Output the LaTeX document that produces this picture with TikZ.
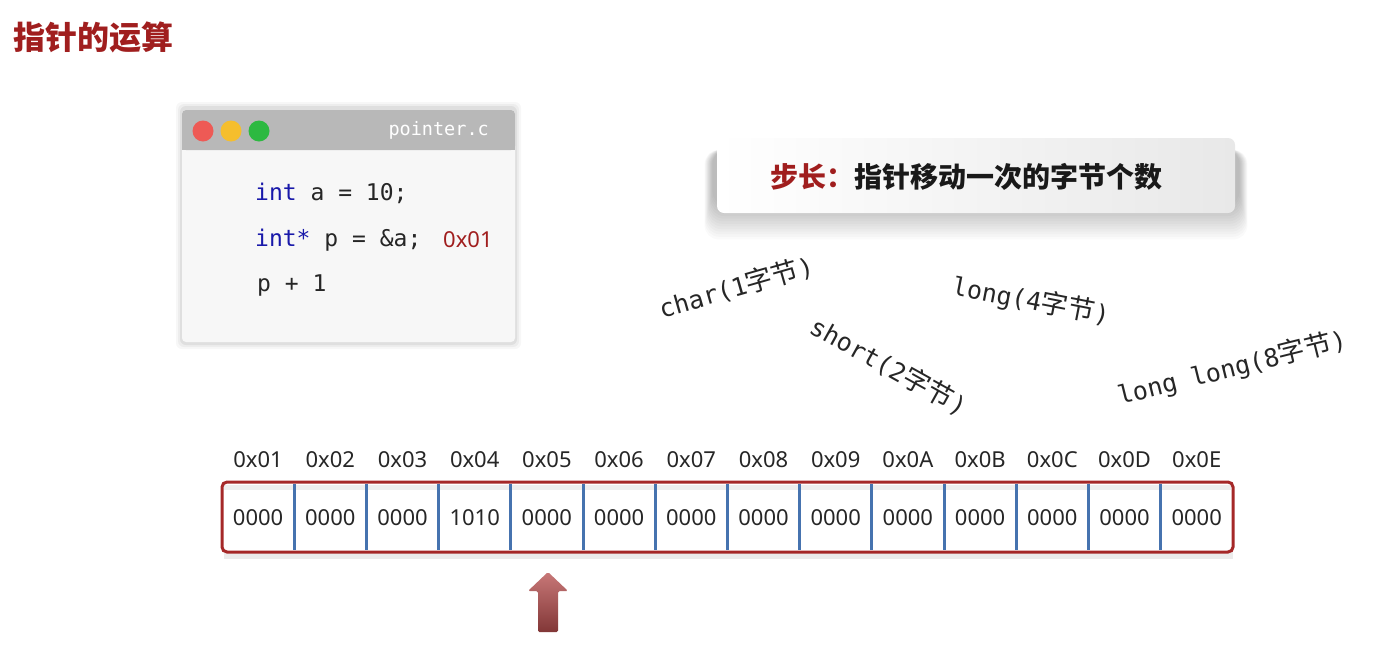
\documentclass[tikz,border=0pt]{standalone}
\usepackage{fontspec}
\setmainfont{Noto Sans}
\newfontfamily\cjk{Noto Sans CJK SC}
\newfontfamily\mono{DejaVu Sans Mono}
\usetikzlibrary{shadings}
\definecolor{tred}{RGB}{160,30,30}
\definecolor{kwblue}{RGB}{25,25,170}
\definecolor{cellblue}{RGB}{70,115,175}
\definecolor{boxred}{RGB}{165,40,40}
\begin{document}
\begin{tikzpicture}[x=1pt,y=-1pt,
  addr/.style={font=\fontsize{22}{22}\selectfont, text=black!85, anchor=center, inner sep=0pt},
  val/.style={font=\fontsize{22}{22}\selectfont, text=black!85, anchor=center, inner sep=0pt},
  code/.style={font=\mono\fontsize{23}{23}\selectfont, anchor=west, inner sep=0pt, text=black!85},
  rot/.style={font=\mono\fontsize{25}{25}\selectfont, inner sep=0pt, text=black!85},
  dot/.style={circle, minimum size=21pt, inner sep=0pt}
]
\useasboundingbox (0,0) rectangle (1375,651);
\fill[white] (0,0) rectangle (1375,651);

% title
\node[font=\cjk\bfseries\fontsize{32}{32}\selectfont, text=tred, anchor=west, inner sep=0pt] (title) at (13,37) {指针的运算};

% code window shadow
\foreach \i/\o in {6/0.03,4/0.04,2/0.06}{
  \fill[black, opacity=\o, rounded corners=6] (182-\i,108-\i) rectangle (515+\i,343+\i);
}
\fill[black!3, rounded corners=4] (182,110) rectangle (515,342);
\fill[black!28, rounded corners=4] (182,110) rectangle (515,150);
\fill[black!28] (182,140) rectangle (515,150);
\node[dot, fill={rgb,255:red,238;green,90;blue,85}] (d1) at (203,131) {};
\node[dot, fill={rgb,255:red,245;green,190;blue,45}] (d2) at (231,131) {};
\node[dot, fill={rgb,255:red,45;green,185;blue,65}] (d3) at (259,131) {};
\node[font=\mono\fontsize{18.5}{19}\selectfont, text=white, anchor=east, inner sep=0pt] (fname) at (489,130) {pointer.c};

\node[code] (l1) at (255,193) {\textcolor{kwblue}{int} a = 10;};
\node[code] (l2) at (255,240) {\textcolor{kwblue}{int*} p = \&a;};
\node[font=\fontsize{22}{22}\selectfont, text=tred, anchor=west, inner sep=0pt] (addr) at (443,240) {0x01};
\node[code] (l3) at (257,286) {p + 1};

% step box with soft shadow
\foreach \i in {1,...,14}{
  \fill[black, opacity=0.018, rounded corners=14] (713-\i*0.6,150) rectangle (1239+\i*0.6,{203+\i*2.6});
}
\shade[left color=white, right color=black!9, rounded corners=7] (717,138) rectangle (1235,213);
\node[font=\cjk\bfseries\fontsize{28}{28}\selectfont, inner sep=0pt] (step) at (966,177) {\textcolor{tred}{步长：}\textcolor{black!90}{指针移动一次的字节个数}};

% rotated labels
\node[rot, rotate=16] (c1) at (736,287) {char(1{\cjk\fontsize{27}{27}\selectfont 字节})};
\node[rot, rotate=-11] (c4) at (1031,301) {long(4{\cjk\fontsize{27}{27}\selectfont 字节})};
\node[rot, rotate=-29] (c2) at (889,366) {short(2{\cjk\fontsize{27}{27}\selectfont 字节})};
\node[rot, rotate=14] (c8) at (1232,368) {long long(8{\cjk\fontsize{27}{27}\selectfont 字节})};

% memory row
\fill[black!8] (224,552) rectangle (1233,559);
\fill[white] (222,482) rectangle (1233,552);
\fill[black!7] (224,485) rectangle (1231,490);
\foreach \k in {1,...,13}{
  \draw[cellblue, line width=3pt] ({222+\k*72.2},484) -- ({222+\k*72.2},550);
}
\draw[boxred, line width=3pt, rounded corners=5] (222,482) rectangle (1233,552);
\foreach \k/\a/\v in {0/0x01/0000,1/0x02/0000,2/0x03/0000,3/0x04/1010,4/0x05/0000,5/0x06/0000,6/0x07/0000,7/0x08/0000,8/0x09/0000,9/0x0A/0000,10/0x0B/0000,11/0x0C/0000,12/0x0D/0000,13/0x0E/0000}{
  \node[addr] (a\k) at ({222+36.1+\k*72.2},460) {\a};
  \node[val] (v\k) at ({222+36.1+\k*72.2},518) {\v};
}

% arrow
\shade[top color={rgb,255:red,200;green,120;blue,120}, bottom color={rgb,255:red,130;green,55;blue,55}, rounded corners=1.5]
  (548,572) -- (568,591) -- (558,591) -- (558,632) -- (538,632) -- (538,591) -- (528,591) -- cycle;
\coordinate (arrowtip) at (548,572);
\end{tikzpicture}
\end{document}
